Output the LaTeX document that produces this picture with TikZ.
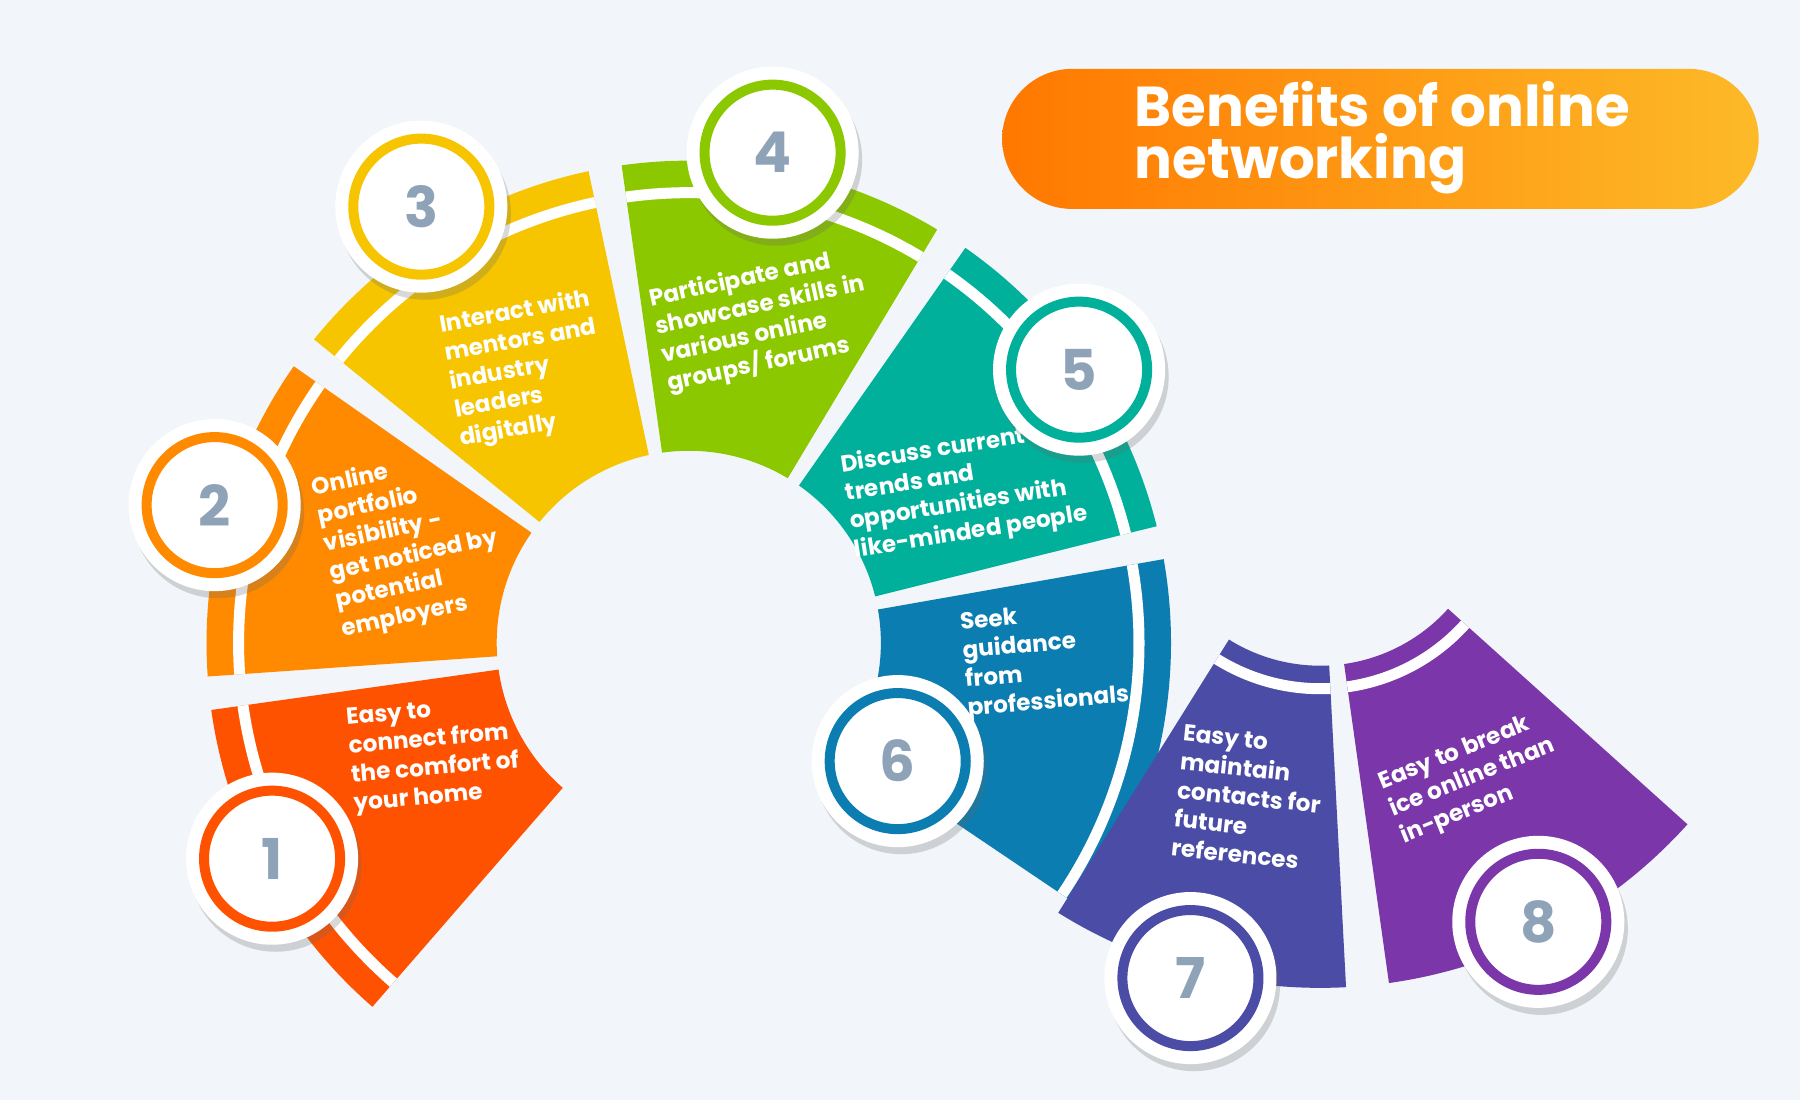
\documentclass[tikz,border=0pt]{standalone}
\usepackage{fontspec}
\setmainfont{Poppins}
\usetikzlibrary{calc,positioning,shadows}
\definecolor{bgcol}{HTML}{F2F5F9}
\definecolor{segA}{HTML}{FF5200}
\definecolor{segB}{HTML}{FF8A00}
\definecolor{segC}{HTML}{F6C500}
\definecolor{segD}{HTML}{8CC800}
\definecolor{segE}{HTML}{00B09B}
\definecolor{segF}{HTML}{0B7DB1}
\definecolor{segG}{HTML}{4A4CA6}
\definecolor{segH}{HTML}{7B36A9}
\definecolor{numcol}{HTML}{8FA3B8}
\definecolor{titleL}{HTML}{FF7800}
\definecolor{titleR}{HTML}{FDBA28}
\tikzset{
    % texts
    seg text/.style={text=white,font=\bfseries\fontsize{6.6}{8.2}\selectfont,align=left,inner sep=0pt},
    num text/.style={text=numcol,font=\bfseries\fontsize{16}{16}\selectfont},
    % number badges
    badge/.style={circle,fill=white,minimum size=1.72cm,inner sep=0pt,
        drop shadow={shadow xshift=1pt,shadow yshift=-2pt,opacity=.25,fill=black!60}},
    badge ring/.style={circle,draw=#1,line width=.1cm,minimum size=1.36cm,inner sep=0pt},
    stripe/.style={draw=white,line width=.11cm}
}
% center, from, to, inner r, outer r, colour
\newcommand\ringseg[6]{%
  \fill[#6] ($(#1)+(#2:#4)$) arc[start angle=#2,end angle=#3,radius=#4]
     -- ($(#1)+(#3:#5)$) arc[start angle=#3,end angle=#2,radius=#5] -- cycle;}
\begin{document}
\begin{tikzpicture}[x=0.01148cm,y=0.01148cm]
    \fill[bgcol] (0,0) rectangle (1568,958);
    \useasboundingbox (0,0) rectangle (1568,958);
    \coordinate (L) at (600,398);
    \coordinate (R) at (1150,528);
    % left ring
    \foreach \a/\b/\col in {188/229/segA,145/184/segB,102/141/segC,59/98/segD,14/55/segE,-34/10/segF}{
        \ringseg{L}{\a}{\b}{1.92cm}{4.82cm}{\col}
        \draw[stripe] ($(L)+(\a:4.5cm)$) arc[start angle=\a,end angle=\b,radius=4.5cm];
    }
    % right ring
    \foreach \a/\b/\col in {238/273/segG,278/318/segH}{
        \ringseg{R}{\a}{\b}{1.72cm}{4.94cm}{\col}
        \draw[stripe] ($(R)+(\a:1.95cm)$) arc[start angle=\a,end angle=\b,radius=1.95cm];
    }
    % texts
    \node[seg text,rotate=5] (t1) at (378,300) {Easy to\\connect from\\the comfort of\\your home};
    \node[seg text,rotate=12] (t2) at (358,486) {Online\\portfolio\\visibility -\\get noticed by\\potential\\employers};
    \node[seg text,rotate=10] (t3) at (458,636) {Interact with\\mentors and\\industry\\leaders\\digitally};
    \node[seg text,rotate=12] (t4) at (665,679) {Participate and\\showcase skills in\\various online\\groups/ forums};
    \node[seg text,rotate=9] (t5) at (840,531) {Discuss current\\trends and\\opportunities with\\like-minded people};
    \node[seg text,rotate=5] (t6) at (910,383) {Seek\\guidance\\from\\professionals};
    \node[seg text,rotate=-6] (t7) at (1088,263) {Easy to\\maintain\\contacts for\\future\\references};
    \node[seg text,rotate=22] (t8) at (1283,280) {Easy to break\\ice online than\\in-person};
    % badges
    \foreach \i/\x/\y/\col in {1/237/210/segA,2/187/518/segB,3/367/778/segC,4/673/825/segD,
        5/940/636/segE,6/782/295/segF,7/1037/106/segG,8/1340/155/segH}{
        \node[badge] (n\i) at (\x,\y) {};
        \node[badge ring=\col,num text] at (n\i) {\i};
    }
    % title
    \shade[left color=titleL,right color=titleR,rounded corners=0.7cm] (873,776) rectangle (1532,898);
    \node[anchor=west,text=white,align=left,inner sep=0pt,
        font=\bfseries\fontsize{16}{15}\selectfont] (title) at (988,838) {Benefits of online\\networking};
\end{tikzpicture}
\end{document}
